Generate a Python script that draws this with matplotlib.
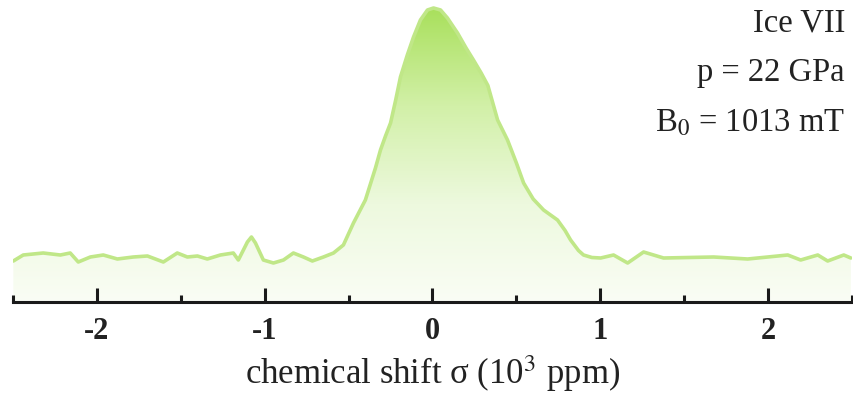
import numpy as np
import matplotlib
matplotlib.use("Agg")
import matplotlib.pyplot as plt
from matplotlib.colors import LinearSegmentedColormap

# chemical shift (10^3 ppm)
shift = [-2.498, -2.439, -2.320, -2.218, -2.159, -2.111, -2.039, -1.962, -1.878, -1.783,
         -1.699, -1.604, -1.521, -1.461, -1.401, -1.342, -1.264, -1.187, -1.157, -1.103,
         -1.079, -1.055, -1.008, -0.948, -0.888, -0.829, -0.769, -0.716, -0.650, -0.590,
         -0.531, -0.471, -0.400, -0.340, -0.310, -0.280, -0.250, -0.220, -0.191, -0.150,
         -0.113, -0.072, -0.030, 0.006, 0.048, 0.089, 0.149, 0.200, 0.244, 0.290,
         0.330, 0.388, 0.447, 0.500, 0.543, 0.600, 0.662, 0.745, 0.790,
         0.823, 0.870, 0.900, 0.950, 1.002, 1.079, 1.163, 1.258, 1.377, 1.676, 1.878, 1.998,
         2.117, 2.194, 2.296, 2.355, 2.451, 2.493]
# normalised signal intensity
intensity = [-0.012, 0.012, 0.020, 0.012, 0.020, -0.016, 0.004, 0.012, -0.004, 0.004,
             0.008, -0.016, 0.020, 0.004, 0.008, -0.004, 0.012, 0.020, -0.008, 0.064,
             0.084, 0.060, -0.008, -0.020, -0.008, 0.020, 0.004, -0.012, 0.004, 0.020,
             0.052, 0.140, 0.232, 0.360, 0.432, 0.488, 0.540, 0.630, 0.724, 0.812,
             0.884, 0.952, 0.992, 1.000, 0.992, 0.960, 0.900, 0.840, 0.792, 0.740,
             0.690, 0.552, 0.472, 0.380, 0.300, 0.236, 0.192, 0.152, 0.110,
             0.072, 0.030, 0.012, 0.002, 0.000, 0.012, -0.020, 0.024, 0.000, 0.004, -0.004, 0.004,
             0.012, -0.008, 0.012, -0.012, 0.012, 0.000]

major_ticks = [-2, -1, 0, 1, 2]
major_labels = ["-2", "-1", "0", "1", "2"]
minor_ticks = [-2.5, -1.5, -0.5, 0.5, 1.5, 2.5]

annotations = ["Ice VII", "p = 22 GPa", r"B$_0$ = 1013 mT"]
xlabel = r"chemical shift σ (10$^3$ ppm)"

plt.rcParams["font.family"] = ["Liberation Serif", "DejaVu Serif"]
plt.rcParams["mathtext.fontset"] = "stix"

fig = plt.figure(figsize=(8.54, 3.94), dpi=100)
ax = fig.add_axes([13 / 854, 1 - 302 / 394, (852 - 13) / 854, 302 / 394])

x = np.array(shift)
y = np.array(intensity)
ymin, ymax = -0.176, 1.032
ax.set_xlim(-2.5, 2.5)
ax.set_ylim(ymin, ymax)

# gradient fill under curve
cmap = LinearSegmentedColormap.from_list(
    "g", ["#fafdf5", "#edf9de", "#d2f0a8", "#a9e05c"])
grad = np.linspace(0, 1, 256).reshape(-1, 1)
fill = ax.fill_between(x, y, ymin, facecolor="none", edgecolor="none")
img = ax.imshow(grad, aspect="auto", cmap=cmap, origin="lower",
                extent=[-2.5, 2.5, ymin, 1.0], zorder=1)
path = fill.get_paths()[0]
img.set_clip_path(path, transform=ax.transData)

ax.plot(x, y, color="#c0e788", lw=2.6, solid_joinstyle="round",
        solid_capstyle="round", zorder=3)

for s in ["left", "right", "top"]:
    ax.spines[s].set_visible(False)
ax.spines["bottom"].set_linewidth(2.2)
ax.spines["bottom"].set_color("#1a1a1a")
ax.set_yticks([])
ax.set_xticks(major_ticks)
ax.set_xticklabels(major_labels, fontsize=22, fontweight="bold", color="#222222")
ax.set_xticks(minor_ticks, minor=True)
ax.tick_params(axis="x", which="major", direction="in", length=10, width=2.2,
               color="#1a1a1a", pad=11)
ax.tick_params(axis="x", which="minor", direction="in", length=5, width=2.2,
               color="#1a1a1a")
ax.set_xlabel(xlabel, fontsize=25, color="#222222", labelpad=5)

ys = [1 - 23 / 394, 1 - 73 / 394, 1 - 123 / 394]
for t, yy in zip(annotations, ys):
    fig.text(845 / 854, yy, t, ha="right", va="center", fontsize=23.5, color="#222222")

fig.savefig("out.png", dpi=100)
